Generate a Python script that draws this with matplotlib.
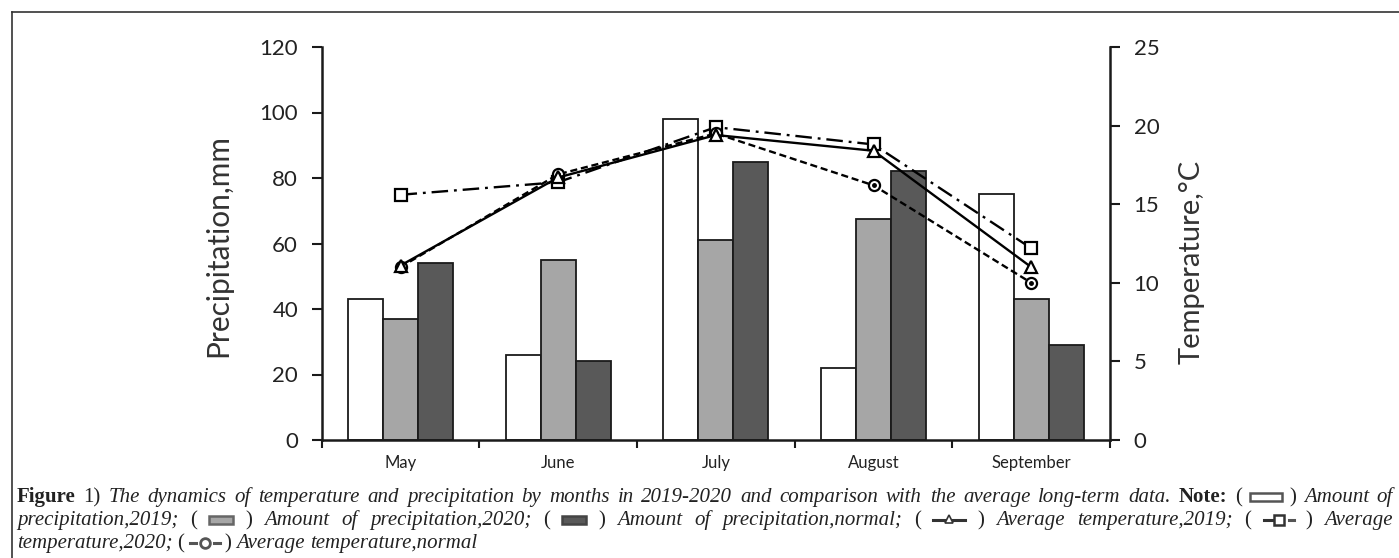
import matplotlib
matplotlib.use('Agg')
import matplotlib.pyplot as plt
import numpy as np
from matplotlib.transforms import IdentityTransform
from matplotlib.patches import Rectangle
from matplotlib.lines import Line2D

# ---------------- data ----------------
months = ['May', 'June', 'July', 'August', 'September']
precip_2019 = [43, 26, 98, 22, 75]
precip_2020 = [37, 55, 61, 67.5, 43]
precip_normal = [54, 24, 85, 82, 29]
temp_2019 = [11.1, 16.7, 19.4, 18.4, 11.0]
temp_2020 = [15.6, 16.4, 19.9, 18.8, 12.2]
temp_normal = [11.0, 16.9, 19.5, 16.2, 10.0]
precip_ticks = [0, 20, 40, 60, 80, 100, 120]
temp_ticks = [0, 5, 10, 15, 20, 25]

W, H = 1399, 558
fig = plt.figure(figsize=(W / 100, H / 100), dpi=100)
fig.patch.set_facecolor('white')

L, R, B, T = 321.7, 1110, 440, 47
ax = fig.add_axes([L / W, 1 - B / H, (R - L) / W, (B - T) / H])
ax2 = ax.twinx()

axfont = 'Lato'
x = np.arange(len(months))
bw = 0.222
ax.bar(x - bw, precip_2019, bw, color='white', edgecolor='#1a1a1a', linewidth=1.3, zorder=2)
ax.bar(x, precip_2020, bw, color='#a6a6a6', edgecolor='#1a1a1a', linewidth=1.3, zorder=2)
ax.bar(x + bw, precip_normal, bw, color='#595959', edgecolor='#1a1a1a', linewidth=1.3, zorder=2)

ax.set_xlim(-0.5, len(months) - 0.5)
ax.set_ylim(0, 120)
ax.set_yticks(precip_ticks)
ax.set_yticklabels([str(v) for v in precip_ticks], fontsize=16, family=axfont, color='#222222')
ax.set_xticks(x)
ax.set_xticklabels(months, fontsize=12, family=axfont, color='#222222')
ax.set_xticks(np.arange(-0.5, len(months)), minor=True)
ax.tick_params(axis='x', which='major', length=0, pad=11)
ax.tick_params(axis='x', which='minor', length=6, width=1.5, direction='out', color='#1a1a1a')
ax.tick_params(axis='y', length=7, width=1.5, direction='out', pad=10, color='#1a1a1a')
for s in ['top', 'right']:
    ax.spines[s].set_visible(False)
for s in ['left', 'bottom']:
    ax.spines[s].set_linewidth(1.8)
    ax.spines[s].set_color('#1a1a1a')
ax.set_ylabel('Precipitation,mm', fontsize=21.5, family=axfont, color='#333333')
ax.yaxis.set_label_coords(-0.114, 0.496)

ax2.set_ylim(0, 25)
ax2.set_yticks(temp_ticks)
ax2.set_yticklabels([str(v) for v in temp_ticks], fontsize=16, family=axfont, color='#222222')
ax2.tick_params(axis='y', length=7, width=1.5, direction='out', pad=10, color='#1a1a1a')
for s in ['top', 'left', 'bottom']:
    ax2.spines[s].set_visible(False)
ax2.spines['right'].set_linewidth(1.8)
ax2.spines['right'].set_color('#1a1a1a')
ax2.set_ylabel('Temperature,°C', fontsize=21, family=axfont, color='#333333')
ax2.yaxis.set_label_coords(1.0875, 0.454)

ax2.plot(x, temp_2020, color='black', lw=1.7, dashes=(7, 2.5, 1.2, 2.5),
         marker='s', ms=9, mfc='white', mec='black', mew=1.6, zorder=3)
ax2.plot(x, temp_normal, color='black', lw=1.7, dashes=(3, 1.6),
         marker='o', ms=8, mfc='white', mec='black', mew=1.6, zorder=4)
ax2.plot(x, temp_normal, ls='none', marker='o', ms=2.5, color='black', zorder=5)
ax2.plot(x, temp_2019, color='black', lw=1.7, ls='-',
         marker='^', ms=8, mfc='white', mec='black', mew=1.6, zorder=6)

# ---------------- frame ----------------
idt = IdentityTransform()
fig.add_artist(Line2D([12, W], [H - 12, H - 12], transform=idt, color='#333333', lw=1.2))
fig.add_artist(Line2D([12, 12], [0, H - 12], transform=idt, color='#333333', lw=1.2))

# ---------------- caption ----------------
serif = 'Liberation Serif'
cfs = 15
renderer = fig.canvas.get_renderer()


def icon_artists(kind, x0, yb):
    arts = []
    yc = yb + 5
    if kind in ('bar_white', 'bar_gray', 'bar_dark'):
        fc = {'bar_white': 'white', 'bar_gray': '#a6a6a6', 'bar_dark': '#595959'}[kind]
        ec = {'bar_white': '#555555', 'bar_gray': '#666666', 'bar_dark': '#444444'}[kind]
        wd = 32 if kind == 'bar_white' else 24
        arts.append(Rectangle((x0, yc - 4), wd, 8, transform=idt, facecolor=fc, edgecolor=ec, lw=1.8))
    elif kind == 'tri':
        arts.append(Line2D([x0, x0 + 32], [yc, yc], transform=idt, color='#333333', lw=2.2))
        arts.append(Line2D([x0 + 16], [yc + 1], transform=idt, marker='^', ms=6, mfc='white', mec='#333333', mew=1.2))
    elif kind == 'sq':
        arts.append(Line2D([x0, x0 + 12], [yc, yc], transform=idt, color='#333333', lw=2.2))
        arts.append(Line2D([x0 + 25, x0 + 30], [yc, yc], transform=idt, color='#555555', lw=2.2))
        arts.append(Line2D([x0 + 15], [yc], transform=idt, marker='s', ms=7, mfc='white', mec='#333333', mew=1.8))
    elif kind == 'circ':
        arts.append(Line2D([x0, x0 + 6], [yc, yc], transform=idt, color='#555555', lw=2.2))
        arts.append(Line2D([x0 + 24, x0 + 30], [yc, yc], transform=idt, color='#555555', lw=2.2))
        arts.append(Line2D([x0 + 15], [yc], transform=idt, marker='o', ms=7, mfc='white', mec='#555555', mew=2))
    return arts


ICON_W = {'bar_white': 32, 'bar_gray': 24, 'bar_dark': 24, 'tri': 32, 'sq': 30, 'circ': 30}


def layout(tokens, yb, x0, x1, justify, gap=None):
    items = []
    for tok in tokens:
        if tok[0] == 'icon':
            items.append(('icon', tok[1], ICON_W[tok[1]]))
        else:
            style, s = tok
            kw = dict(family=serif, fontsize=cfs, color='#222222')
            if style == 'b':
                kw['fontweight'] = 'bold'
            elif style == 'i':
                kw['style'] = 'italic'
            t = fig.text(0, 0, s, transform=idt, va='baseline', ha='left', **kw)
            w = t.get_window_extent(renderer=renderer).width
            items.append(('text', t, w))
    total = sum(it[2] for it in items)
    if justify:
        g = (x1 - x0 - total) / (len(items) - 1)
    else:
        g = gap
    xc = x0
    for kind, obj, w in items:
        if kind == 'text':
            obj.set_position((xc, yb))
        else:
            for a in icon_artists(obj, xc, yb):
                fig.add_artist(a)
        xc += w + g


def words(style, s):
    return [(style, w) for w in s.split()]


line1 = ([('b', 'Figure'), ('n', '1)')]
         + words('i', 'The dynamics of temperature and precipitation by months in 2019-2020 '
                      'and comparison with the average long-term data.')
         + [('b', 'Note:'), ('n', '('), ('icon', 'bar_white'), ('n', ')')]
         + words('i', 'Amount of'))
line2 = (words('i', 'precipitation,2019;')
         + [('n', '('), ('icon', 'bar_gray'), ('n', ')')]
         + words('i', 'Amount of precipitation,2020;')
         + [('n', '('), ('icon', 'bar_dark'), ('n', ')')]
         + words('i', 'Amount of precipitation,normal;')
         + [('n', '('), ('icon', 'tri'), ('n', ')')]
         + words('i', 'Average temperature,2019;')
         + [('n', '('), ('icon', 'sq'), ('n', ')')]
         + words('i', 'Average'))
line3 = (words('i', 'temperature,2020;')
         + [('n', '('), ('icon', 'circ'), ('n', ')')]
         + words('i', 'Average temperature,normal'))

layout(line1, H - 502, 17, 1393, True)
layout(line2, H - 525, 17, 1393, True)
layout(line3, H - 548, 17, 1393, False, gap=5)

fig.savefig('out.png', dpi=100, facecolor='white')
